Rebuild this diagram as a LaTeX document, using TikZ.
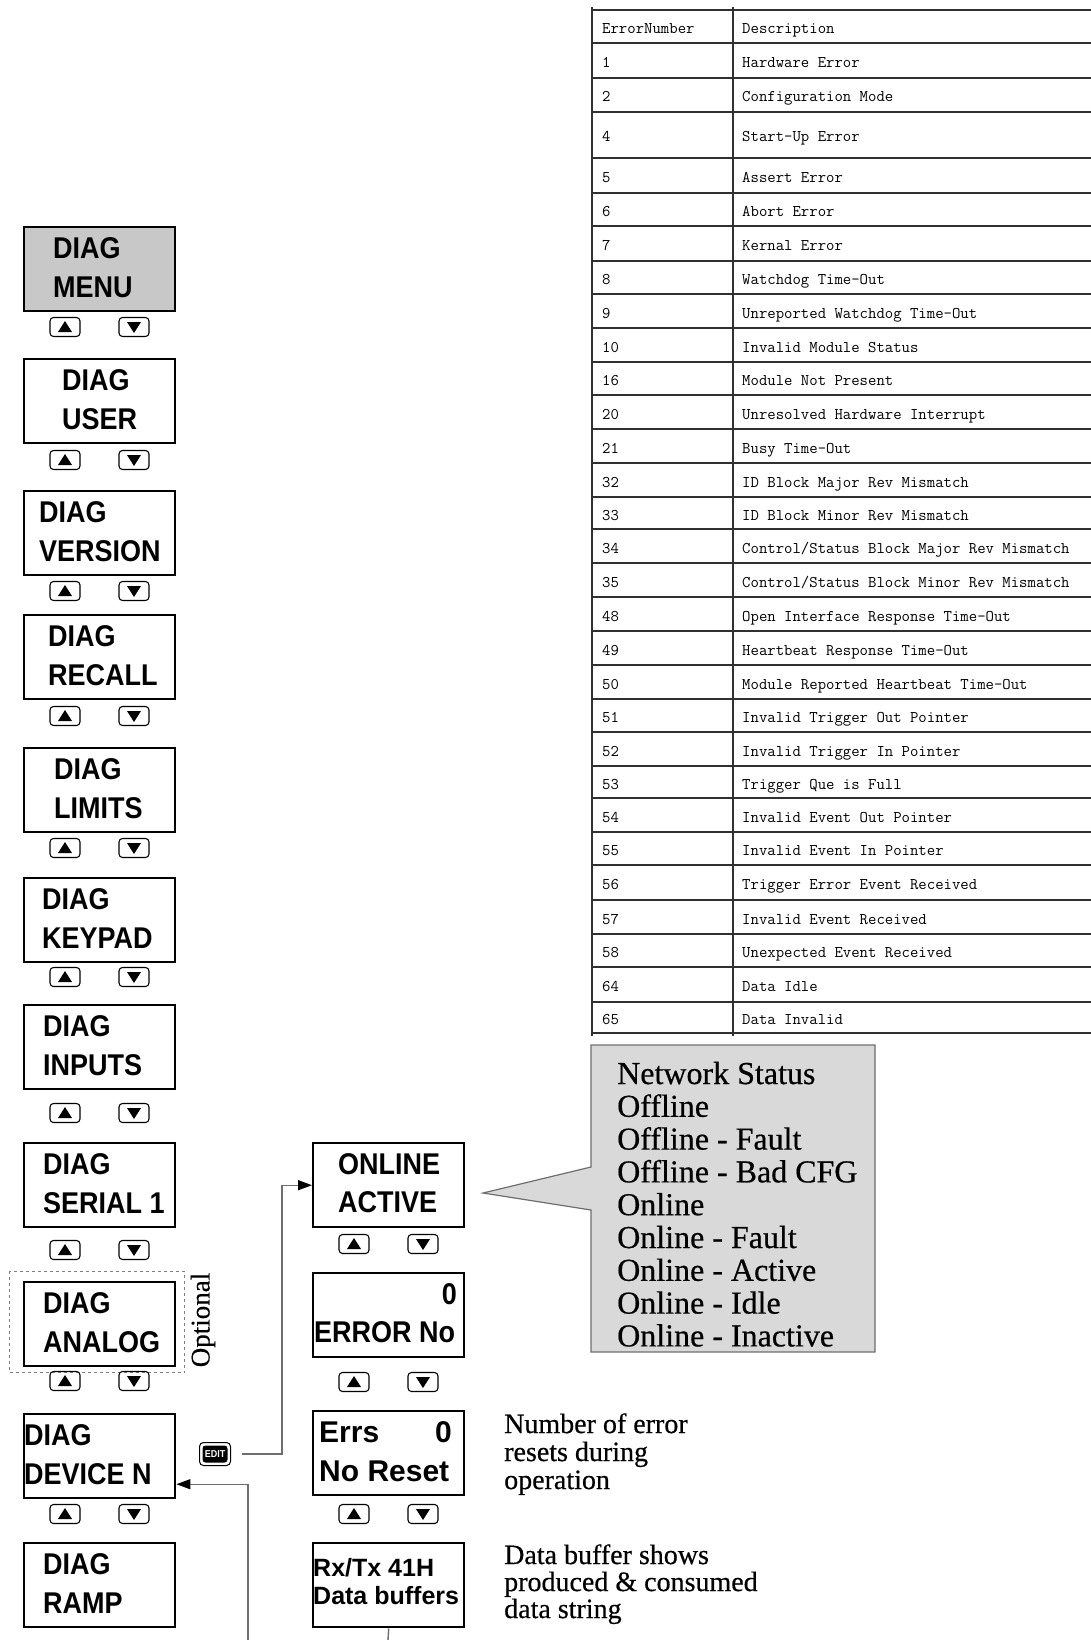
\documentclass[tikz,border=0pt]{standalone}
\usepackage{fontspec}
\setmainfont{Liberation Serif}
\newfontfamily\heavyserif[FakeBold=0.5]{Liberation Serif}
\newfontfamily\lcdfont[FakeStretch=0.9]{Liberation Sans}
\newfontfamily\lcdwide{Liberation Sans}
\usetikzlibrary{arrows.meta,calc}
\definecolor{menugray}{HTML}{C8C8C8}
\definecolor{callgray}{HTML}{D9D9D9}
\definecolor{linegray}{HTML}{6E6E6E}
\definecolor{tabline}{HTML}{303030}
\tikzset{
 lcd/.style={draw=black, line width=2.4pt, fill=white, minimum width=151pt, minimum height=84pt, inner sep=0pt, anchor=north west},
 lcdtxt/.style={font=\lcdfont\bfseries\fontsize{30}{30}\selectfont, inner sep=0pt, anchor=base west},
 lcdw/.style={font=\lcdwide\bfseries\fontsize{30}{30}\selectfont, inner sep=0pt, anchor=base west},
 lcds/.style={font=\lcdwide\bfseries\fontsize{25}{25}\selectfont, inner sep=0pt, anchor=base west},
 btn/.style={draw=black, line width=1.1pt, rounded corners=3.5pt, minimum width=30pt, minimum height=19pt, inner sep=0pt},
 conn/.style={draw=linegray, line width=1.4pt},
 arr/.style={-{Triangle[length=14pt,width=10pt,color=black]}},
 tabrule/.style={draw=tabline, line width=2.2pt},
 tabtxt/.style={font=\ttfamily\fontsize{16.3}{18}\selectfont, inner sep=0pt, anchor=base west},
 note/.style={font=\heavyserif\fontsize{28}{28}\selectfont, inner sep=0pt, anchor=base west},
 status/.style={font=\heavyserif\fontsize{32}{32}\selectfont, inner sep=0pt, anchor=base west},
 optbox/.style={draw=gray, line width=1pt, dash pattern=on 3pt off 3pt, anchor=north west, inner sep=0pt},
}
\newcommand\lcdbox[7]{%
 \node[lcd,#7] (#1) at (#2,#3) {};
 \node[lcdtxt] (#1-a) at ({#2+#4},{#3+32}) {#5};
 \node[lcdtxt] (#1-b) at ({#2+#4},{#3+71}) {#6};
}
\newcommand\btnpair[3]{%
 \node[btn] (#1-up) at ({#2+42},#3) {};
 \node[btn] (#1-dn) at ({#2+111},#3) {};
 \fill ($(#1-up.center)+(0,-6)$) -- ($(#1-up.center)+(7,5)$) -- ($(#1-up.center)+(-7,5)$) -- cycle;
 \fill ($(#1-dn.center)+(0,6)$) -- ($(#1-dn.center)+(7,-5)$) -- ($(#1-dn.center)+(-7,-5)$) -- cycle;
}
\begin{document}
\begin{tikzpicture}[x=1pt,y=-1pt]
\useasboundingbox (0,0) rectangle (1091,1640);
\fill[white] (0,0) rectangle (1091,1640);

% ---------- table ----------
\foreach \yy in {10,43,78,112,158,193,226,261,294,328,362,395,429,463,497,529,563,597,631,665,699,732,766,798,832,865,900,934,967,1002,1033}
  \draw[tabrule] (592,\yy) -- (1091,\yy);
\draw[tabrule] (592,7) -- (592,1036);
\draw[tabrule] (733,7) -- (733,1036);
\node[tabtxt] (hnum) at (602,33.5) {ErrorNumber};
\node[tabtxt] (hdesc) at (742,33.5) {Description};
\foreach \n/\d/\yc in {1/{Hardware Error}/60.5, 2/{Configuration Mode}/95, 4/{Start-Up Error}/135,
  5/{Assert Error}/175.5, 6/{Abort Error}/209.5, 7/{Kernal Error}/243.5, 8/{Watchdog Time-Out}/277.5,
  9/{Unreported Watchdog Time-Out}/311, 10/{Invalid Module Status}/345, 16/{Module Not Present}/378.5,
  20/{Unresolved Hardware Interrupt}/412, 21/{Busy Time-Out}/446, 32/{ID Block Major Rev Mismatch}/480,
  33/{ID Block Minor Rev Mismatch}/513, 34/{Control/Status Block Major Rev Mismatch}/546,
  35/{Control/Status Block Minor Rev Mismatch}/580, 48/{Open Interface Response Time-Out}/614,
  49/{Heartbeat Response Time-Out}/648, 50/{Module Reported Heartbeat Time-Out}/682,
  51/{Invalid Trigger Out Pointer}/715.5, 52/{Invalid Trigger In Pointer}/749, 53/{Trigger Que is Full}/782,
  54/{Invalid Event Out Pointer}/815, 55/{Invalid Event In Pointer}/848.5, 56/{Trigger Error Event Received}/882.5,
  57/{Invalid Event Received}/917, 58/{Unexpected Event Received}/950.5, 64/{Data Idle}/984.5, 65/{Data Invalid}/1017.5}
{
  \node[tabtxt] (num\n) at (602,\yc+7) {\n};
  \node[tabtxt] (desc\n) at (742,\yc+7) {\d};
}

% ---------- left column ----------
\lcdbox{menu}{23}{226}{30}{DIAG}{MENU}{fill=menugray}
\btnpair{bmenu}{23}{327}
\lcdbox{user}{23}{358}{39}{DIAG}{USER}{}
\btnpair{buser}{23}{460}
\lcdbox{version}{23}{490}{16}{DIAG}{VERSION}{}
\btnpair{bversion}{23}{591}
\lcdbox{recall}{23}{614}{25}{DIAG}{RECALL}{}
\btnpair{brecall}{23}{716}
\lcdbox{limits}{23}{747}{31}{DIAG}{LIMITS}{}
\btnpair{blimits}{23}{848}
\lcdbox{keypad}{23}{877}{19}{DIAG}{KEYPAD}{}
\btnpair{bkeypad}{23}{977}
\lcdbox{inputs}{23}{1004}{20}{DIAG}{INPUTS}{}
\btnpair{binputs}{23}{1113}
\lcdbox{serial}{23}{1142}{20}{DIAG}{SERIAL 1}{}
\btnpair{bserial}{23}{1250}
\node[optbox, minimum width=175pt, minimum height=101pt] (optframe) at (9,1271) {};
\lcdbox{analog}{23}{1281}{20}{DIAG}{ANALOG}{}
\node[rotate=90, font=\heavyserif\fontsize{27}{27}\selectfont, inner sep=0pt] (opt) at (203,1320) {Optional};
\btnpair{banalog}{23}{1381}
\lcdbox{device}{23}{1413}{1}{DIAG}{DEVICE N}{}
\btnpair{bdevice}{23}{1514}
\lcdbox{ramp}{23}{1542}{20}{DIAG}{RAMP}{}

% EDIT key
\node[draw=black, line width=1pt, fill=white, rounded corners=4pt, minimum width=31pt, minimum height=23pt, inner sep=0pt] (edit) at (215,1454) {};
\node[fill=black, rounded corners=3pt, text=white, font=\lcdfont\bfseries\fontsize{10}{10}\selectfont, minimum width=25pt, minimum height=17pt, inner sep=0pt] (editlbl) at (edit.center) {EDIT};

% ---------- middle column ----------
\node[lcd] (online) at (312,1142) {};
\node[lcdtxt] (online-a) at (338,1174) {ONLINE};
\node[lcdtxt] (online-b) at (338,1212) {ACTIVE};
\btnpair{bonline}{312}{1244}

\node[lcd] (errno) at (312,1272) {};
\node[lcdtxt, anchor=base east] (errno-a) at (457,1304) {0};
\node[lcdtxt] (errno-b) at (314,1342) {ERROR No};
\btnpair{berrno}{312}{1382}

\node[lcd] (errs) at (312,1410) {};
\node[lcdw] (errs-a) at (319,1442) {Errs};
\node[lcdw, anchor=base east] (errs-c) at (452,1442) {0};
\node[lcdw] (errs-b) at (319,1481) {No Reset};
\btnpair{berrs}{312}{1514}

\node[lcd] (rx) at (312,1542) {};
\node[lcds] (rx-a) at (313,1576) {Rx/Tx 41H};
\node[lcds] (rx-b) at (313,1604) {Data buffers};

% ---------- callout ----------
\path[draw=linegray, line width=1.2pt, fill=callgray] (591,1045) -- (875,1045) -- (875,1352) -- (591,1352) -- (591,1210) -- (483,1193) -- (591,1167) -- cycle;
\foreach \t [count=\i from 0] in {Network Status, Offline, Offline - Fault, Offline - Bad CFG, Online, Online - Fault, Online - Active, Online - Idle, Online - Inactive}
  \node[status] (st\i) at (617,1084+32.8*\i) {\t};

% ---------- notes ----------
\node[note] (n1) at (504,1433) {Number of error};
\node[note] (n2) at (504,1461) {resets during};
\node[note] (n3) at (504,1489) {operation};
\node[note] (d1) at (504,1564) {Data buffer shows};
\node[note] (d2) at (504,1591) {produced \& consumed};
\node[note] (d3) at (504,1618) {data string};

% ---------- connectors ----------
\coordinate (bend1) at (282,1454);
\draw[conn, arr, shorten <=11pt] (edit.east) -- (bend1) |- (online.west);
\coordinate (rxend) at (388,1640);
\draw[conn] (rx.south) -- (rxend);
\coordinate (retstart) at (248,1640);
\draw[conn, arr] (retstart) |- ([yshift=-28pt]device.east);
\end{tikzpicture}
\end{document}
